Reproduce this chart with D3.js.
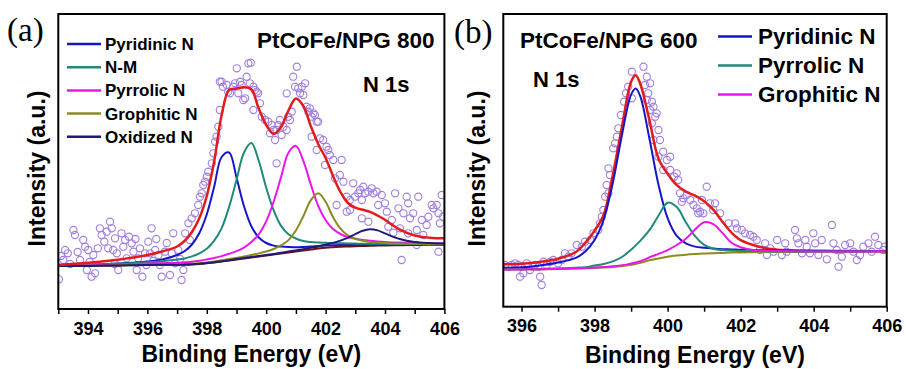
<!DOCTYPE html>
<html>
<head>
<meta charset="utf-8">
<script src="https://cdnjs.cloudflare.com/ajax/libs/d3/7.8.5/d3.min.js"></script>
<style>
	body { margin: 0; background: #fff; }
	svg text { font-family: "Liberation Sans", Arial, sans-serif; font-weight: bold; fill: #000; }
</style>
</head>
<body>
<div id="chartDiv"></div>
<script>
//x axis ticks and labels
var ticksA = [393, 394, 395, 396, 397, 398, 399, 400, 401, 402, 403, 404, 405, 406];
var labelsA = [394, 396, 398, 400, 402, 404, 406];
var ticksB = [396, 397, 398, 399, 400, 401, 402, 403, 404, 405, 406];
var labelsB = [396, 398, 400, 402, 404, 406];

var legendA = ["Pyridinic N", "N-M", "Pyrrolic N", "Grophitic N", "Oxidized N"];
var legendB = ["Pyridinic N", "Pyrrolic N", "Grophitic N"];

//fitted curves for PtCoFe/NPG 800 (intensity in a.u.)
var energyA = [393, 394, 395, 396, 396.5, 397, 397.25, 397.5, 397.75, 398, 398.25, 398.5, 398.75, 399, 399.25, 399.5, 399.75, 400, 400.25, 400.5, 400.75, 401, 401.25, 401.5, 401.75, 402, 402.25, 402.5, 402.75, 403, 403.25, 403.5, 403.75, 404, 404.5, 405, 405.5, 406];
var backgroundA = [43, 43, 43.5, 44, 44, 44, 44.2, 44.5, 45, 45.7, 46.5, 47.5, 48.5, 49.5, 50.5, 51.5, 52.5, 53.5, 54.5, 55.5, 56.5, 57.5, 58.5, 59.5, 60.5, 61.3, 61.8, 62.2, 62.5, 62.8, 63, 63.2, 63.4, 63.6, 63.8, 64, 64.2, 64.3];
var pyridinicA = [43.8, 44.2, 45.4, 47.4, 49.5, 54, 57.7, 64.5, 76, 94.7, 122.5, 152, 156.5, 131.5, 103, 82.7, 71.5, 66, 63.4, 62.4, 61.9, 61.8, 62.1, 62.5, 63.1, 63.5, 63.8, 64, 64.1, 64.1, 64.2, 64.3, 64.4, 64.5, 64.6, 64.6, 64.7, 64.7];
var nmA = [43.8, 44.2, 45.2, 46.8, 47.8, 49.4, 50.6, 52.6, 55.7, 60.2, 68.3, 80.9, 102, 128.9, 156.3, 165.9, 148, 121.3, 98.8, 83.1, 74.8, 70.5, 68, 67, 66.5, 66.2, 65.9, 65.7, 65.5, 65.4, 65.3, 65.3, 65.3, 65.2, 65.1, 65.1, 65.1, 65.1];
var pyrrolicA = [43.6, 43.7, 44.5, 45.4, 45.8, 46.2, 46.7, 47.3, 48.3, 49.6, 51, 52.9, 55.2, 57.8, 61.4, 67, 74.7, 87.6, 107.3, 131.9, 156.3, 163.1, 148.1, 124.6, 103.2, 89, 79.9, 75, 71.9, 70.2, 69, 68.2, 67.6, 67.1, 66.4, 66, 65.9, 65.7];
var grophiticA = [43.2, 43.2, 43.8, 44.4, 44.5, 44.6, 44.9, 45.2, 45.8, 46.6, 47.6, 48.7, 49.9, 51.2, 52.5, 54, 55.6, 57.5, 60, 63.6, 68.9, 78.5, 92.8, 108.7, 115.7, 107.2, 91.7, 80.4, 73.6, 70.2, 68.2, 67, 66.3, 66, 65.4, 65.2, 65.1, 65];
var oxidizedA = [43.1, 43.1, 43.6, 44.1, 44.2, 44.2, 44.4, 44.7, 45.2, 45.9, 46.8, 47.8, 48.8, 49.9, 50.9, 52, 53, 54.1, 55.1, 56.3, 57.4, 58.6, 59.8, 61.2, 62.6, 64.3, 66.1, 68.4, 71.1, 74.8, 78.2, 79.7, 78.6, 75.6, 70, 67, 65.9, 65.4];
var envelopeA = [44, 46.3, 49.3, 54, 57.5, 62.5, 68, 77, 91, 113, 148, 194, 219, 220.5, 221.7, 219.5, 200.4, 184, 175, 182, 198.5, 210.5, 203, 183, 165, 151, 133, 117, 106, 101.3, 99.2, 97.2, 93.5, 89.2, 79.4, 73.5, 71.3, 70.7];

//measured points for PtCoFe/NPG 800 [eV, intensity]
var pointsA = [[393.02,29.7],[393.09,53],[393.17,49],[393.23,59],[393.32,55.7],[393.4,45],[393.51,79],[393.56,74],[393.65,57],[393.73,49],[393.84,69],[393.9,62.3],[393.96,39],[394.01,59],[394.05,47],[394.12,32.3],[394.18,54],[394.24,35.7],[394.33,60.7],[394.4,80.7],[394.46,74],[394.55,67.3],[394.63,77.3],[394.68,60.7],[394.74,87.3],[394.8,80.7],[394.85,59],[394.9,45],[394.91,70.7],[394.97,55.7],[395.02,39],[395.13,75.7],[395.19,62.3],[395.25,69],[395.3,50.7],[395.38,72.3],[395.47,65.7],[395.53,57.3],[395.6,70],[395.64,39],[395.69,50.7],[395.75,60.7],[395.83,32.3],[395.92,55.7],[395.97,44],[396.03,67.3],[396.09,55.7],[396.14,80.7],[396.2,48],[396.26,59],[396.3,70],[396.37,54],[396.42,44],[396.48,32.3],[396.59,57.3],[396.65,66],[396.76,34],[396.82,55.7],[396.87,75.7],[396.93,45.7],[397.04,59],[397.1,50],[397.15,29],[397.21,39],[397.27,75.7],[397.38,85.7],[397.43,69],[397.49,90.7],[397.6,95.7],[397.71,104],[397.77,112.3],[397.83,115.7],[397.88,124],[397.94,127.3],[398,132.3],[398.05,137.3],[398.17,145.7],[398.22,155.7],[398.28,167.3],[398.33,172.3],[398.39,182.3],[398.44,199],[398.44,227.3],
	[398.5,227.3],[398.54,222.3],[398.67,224],[398.72,217.3],[398.78,215.7],[398.89,222.3],[398.95,225.7],[399.01,240.7],[399.06,215.7],[399.12,227.3],[399.17,224],[399.23,209],[399.29,210.7],[399.34,232.3],[399.4,245.7],[399.48,246.3],[399.45,225.7],[399.57,222.3],[399.62,219],[399.68,217.3],[399.73,215.7],[399.57,199],[399.79,205.7],[399.85,192.3],[399.96,189],[400.07,187.3],[400.13,175.7],[400.19,184],[400.24,179],[400.3,169],[400.35,179],[400.35,145.7],[400.41,184],[400.46,189],[400.52,174],[400.58,182.3],[400.69,179],[400.69,215.7],[400.74,192.3],[400.8,189],[400.86,197.3],[400.91,232.3],[400.97,222.3],[401.03,242.3],[401.08,220.7],[401.14,215.7],[401.2,222.3],[401.25,214],[401.31,225.7],[401.36,202.3],[401.42,197.3],[401.47,200.7],[401.53,192.3],[401.53,172.3],[401.59,195.7],[401.64,194],[401.7,187.3],[401.7,159],[401.75,187.3],[401.81,170.7],[401.92,169],[401.98,144],[402.03,162.3],[402.09,159],
	[402.14,154],[402.26,149],[402.54,149],[402.32,130.7],[402.48,134],[402.6,127.3],[402.37,104],[402.71,112.3],[402.82,109],[402.93,125.7],[402.99,112.3],[403.1,115.7],[403.16,119],[403.22,109],[403.27,122.3],[403.33,115.7],[402.71,97.3],[402.82,99],[403.22,90.7],[403.44,87.3],[403.44,117.3],[403.55,120.7],[403.61,115.7],[403.72,117.3],[403.77,104],[403.89,114],[404,105.7],[404.06,97.3],[404.11,82.3],[404.23,89],[404.34,115.7],[404.45,100.7],[404.5,80.7],[404.62,95.7],[404.73,112.3],[404.78,105.7],[404.84,90.7],[404.95,95.7],[405.07,79],[405.12,112.3],[405.24,89],[405.29,74],[405.4,84],[405.46,92.3],[405.57,104],[405.63,100.7],[405.74,104],[405.8,95.7],[405.85,85.7],[405.91,114],[405.96,92.3],[404.56,49],[405.8,57.3],[405.07,64],[404.28,76.3],[404.78,75.7]];

//fitted curves for PtCoFe/NPG 600
var energyB = [395.5, 396, 396.5, 397, 397.5, 397.75, 398, 398.25, 398.5, 398.75, 399, 399.125, 399.25, 399.5, 399.75, 400, 400.25, 400.5, 400.75, 401, 401.25, 401.5, 401.75, 402, 402.5, 403, 403.5, 404, 404.5, 405, 405.5, 406];
var backgroundB = [37.2, 37.2, 37.3, 37.7, 38.1, 38.4, 38.7, 39.2, 39.8, 40.7, 42, 42.8, 43.8, 46.5, 48.3, 50, 51.2, 52, 52.6, 53.1, 53.5, 53.8, 54.1, 54.3, 54.6, 54.7, 54.8, 54.9, 55, 55, 55.1, 55.2];
var pyridinicB = [38.9, 39.4, 41.3, 44.2, 49.1, 55.4, 66.7, 87.2, 123.8, 171.7, 212.1, 218.2, 210.6, 168.4, 122, 88.6, 70.8, 63.4, 60.1, 58.9, 58.1, 57.5, 57.3, 56.9, 56.5, 56.1, 55.9, 55.8, 55.8, 55.6, 55.6, 55.7];
var pyrrolicB = [37.5, 37.6, 37.8, 38.3, 39, 39.5, 41.2, 42.7, 45.3, 49.7, 57, 61.3, 65.8, 76.5, 91, 104, 99.6, 84.5, 70.6, 61.9, 58, 56.6, 56.1, 55.8, 55.6, 55.4, 55.3, 55.3, 55.3, 55.3, 55.3, 55.4];
var grophiticB = [37.3, 37.3, 37.5, 37.9, 38.4, 38.7, 39.1, 39.7, 40.4, 41.4, 43.2, 44.2, 45.5, 49.3, 52.8, 56.5, 61.7, 68, 77.1, 84.4, 82.6, 73.8, 64, 59.5, 56, 55.6, 55.4, 55.3, 55.3, 55.3, 55.3, 55.4];
var envelopeB = [42.5, 43, 44.8, 48, 55, 64, 76, 92, 132, 180, 225, 231.5, 223, 187, 148, 133, 121.5, 115, 111, 105.5, 97, 85, 74, 66.5, 60, 57, 56.3, 56, 55.8, 55.6, 55.5, 55.4];

//measured points for PtCoFe/NPG 600 [eV, intensity]
var pointsB = [[395.55,41.7],[395.64,40],[395.73,41.7],[395.82,43.4],[395.91,41.7],[395.96,30],[396,40],[396.05,33.4],[396.14,43.4],[396.23,36.7],[396.32,40],[396.37,41.7],[396.46,40],[396.51,30],[396.55,21.7],[396.6,45],[396.69,41.7],[396.78,45],[396.87,46.7],[397,43.4],[397.1,46.7],[397.19,53.4],[397.28,50],[397.37,53.4],[397.51,61.7],[397.65,60],[397.74,65],[397.88,66.7],[397.97,73.4],[398.1,76.7],[398.15,83.4],[398.2,90],[398.24,96.7],[398.29,110],[398.33,121.7],[398.38,113.4],[398.38,138.4],[398.42,131.7],[398.51,158.4],[398.56,163.4],[398.61,170],[398.65,178.4],[398.72,191.7],[398.81,205],[398.86,213.4],[398.92,220],[399.02,208.4],[399.02,235],[399.34,240],[399.38,221.7],[399.43,230],[399.43,206.7],[399.47,213.4],[399.52,196.7],[399.52,223.4],[399.57,205],[399.57,183.4],[399.61,200],[399.61,166.7],[399.66,190],[399.7,193.4],[399.75,176.7],[399.75,150],[399.79,166.7],[399.88,155],[399.88,136.7],[399.98,146.7],[400.07,136.7],[400.07,150],[400.18,130],[400.25,133.4],
	[400.29,126.7],[400.34,113.4],[400.39,105],[400.43,108.4],[400.52,111.7],[400.62,106.7],[400.71,101.7],[400.8,98.4],[400.84,93.4],[400.89,95],[400.94,106.7],[400.98,93.4],[401.07,120],[401.16,103.4],[401.25,96.7],[401.3,103.4],[401.44,93.4],[401.67,83.4],[401.85,83.4],[401.9,78.4],[402.03,76.7],[402.12,73.4],[402.26,71.7],[402.35,70],[402.44,66.7],[402.53,56.7],[402.67,63.4],[402.72,51.7],[402.81,58.4],[402.9,55],[403,66.7],[403.13,51.7],[403.22,63.4],[403.26,55],[403.49,76.7],[403.54,68.4],[403.58,63.4],[403.68,53.4],[403.77,66.7],[403.81,60],[403.9,53.4],[403.99,73.4],[404.04,63.4],[404.13,51.7],[404.22,66.7],[404.36,47.4],[404.5,81.7],[404.54,63.4],[404.63,56.7],[404.68,40],[404.77,50],[404.86,61.7],[405,63.4],[405.09,55],[405.18,46.7],[405.27,51.7],[405.36,60],[405.5,63.4],[405.59,55],[405.68,70],[405.77,61.7],[405.91,56.7],[405.95,60]];

var blue = "#1616c8", teal = "#1e8a78", magenta = "#ec14ec", olive = "#8c8c1e", navy = "#1c1c78", red = "#e01c1c";

var svg = d3.select("#chartDiv").append("svg")
	.attr("width", 906)
	.attr("height", 369);

svg.append("rect").attr("width", 906).attr("height", 369).attr("fill", "#fff");

drawPanel({
	name: "a", left: 58.3, right: 444.4, top: 14, bottom: 309,
	xDomain: [393, 406], yDomain: [0, 295],
	ticks: ticksA, labels: labelsA, energy: energyA, points: pointsA,
	curves: [
		{values: backgroundA, color: "#6e1414", width: 2},
		{values: pyridinicA, color: blue, width: 2},
		{values: nmA, color: teal, width: 2},
		{values: pyrrolicA, color: magenta, width: 2},
		{values: grophiticA, color: olive, width: 2},
		{values: oxidizedA, color: navy, width: 2},
		{values: envelopeA, color: red, width: 2.5}
	],
	legend: legendA, legendColors: [blue, teal, magenta, olive, navy],
	legendLine: [67, 101], legendText: 105, legendTop: 50, legendStep: 23.2, legendFont: 17, legendOffset: 6,
	panelLabel: "(a)", panelLabelX: 7, panelLabelY: 41,
	sample: "PtCoFe/NPG 800", sampleX: 257, sampleY: 48,
	core: "N 1s", coreX: 363, coreY: 91.5,
	yTitleX: 44.5, xTitleY: 361.5
});

drawPanel({
	name: "b", left: 503.3, right: 886.7, top: 14, bottom: 306.7,
	xDomain: [395.5, 406], yDomain: [0, 292.7],
	ticks: ticksB, labels: labelsB, energy: energyB, points: pointsB,
	curves: [
		{values: backgroundB, color: olive, width: 2},
		{values: envelopeB, color: red, width: 2.5},
		{values: pyridinicB, color: blue, width: 2},
		{values: pyrrolicB, color: teal, width: 2},
		{values: grophiticB, color: magenta, width: 2}
	],
	legend: legendB, legendColors: [blue, teal, magenta],
	legendLine: [718, 752], legendText: 758, legendTop: 43.5, legendStep: 29, legendFont: 22.5, legendOffset: 7,
	panelLabel: "(b)", panelLabelX: 454, panelLabelY: 43,
	sample: "PtCoFe/NPG 600", sampleX: 520, sampleY: 48,
	core: "N 1s", coreX: 533, coreY: 87,
	yTitleX: 484.5, xTitleY: 362.5
});

//draws one XPS panel: points, fitted curves, axis, frame and labels
function drawPanel(p) {
	var x = d3.scaleLinear().domain(p.xDomain).range([p.left, p.right]);
	var y = d3.scaleLinear().domain(p.yDomain).range([p.bottom, p.top]);

	svg.append("clipPath")
		.attr("id", "clip" + p.name)
		.append("rect")
		.attr("x", p.left)
		.attr("y", p.top)
		.attr("width", p.right - p.left)
		.attr("height", p.bottom - p.top);

	var plot = svg.append("g").attr("clip-path", "url(#clip" + p.name + ")");

	plot.selectAll("circle")
		.data(p.points)
		.enter().append("circle")
		.attr("cx", function(d) { return x(d[0]); })
		.attr("cy", function(d) { return y(d[1]); })
		.attr("r", 3.6)
		.attr("fill", "none")
		.attr("stroke", "#a17fe0")
		.attr("stroke-width", 1.1);

	var line = d3.line()
		.x(function(d, i) { return x(p.energy[i]); })
		.y(function(d) { return y(d); })
		.curve(d3.curveCatmullRom.alpha(0.5));

	p.curves.forEach(function(c) {
		plot.append("path")
			.datum(c.values)
			.attr("d", line)
			.attr("fill", "none")
			.attr("stroke", c.color)
			.attr("stroke-width", c.width)
			.attr("stroke-linejoin", "round");
	});

	//bottom axis, a tick every eV and a label every 2 eV
	var gx = svg.append("g")
		.attr("transform", "translate(0," + p.bottom + ")")
		.call(d3.axisBottom(x)
			.tickValues(p.ticks)
			.tickSize(5)
			.tickSizeOuter(0)
			.tickPadding(8)
			.tickFormat(function(d) { return p.labels.indexOf(d) >= 0 ? d : ""; }));
	gx.select(".domain").remove();
	gx.selectAll(".tick line").attr("stroke", "#000").attr("stroke-width", 1.5);
	gx.selectAll(".tick text").style("font-size", "18px").attr("fill", "#000");

	svg.append("rect")
		.attr("x", p.left)
		.attr("y", p.top)
		.attr("width", p.right - p.left)
		.attr("height", p.bottom - p.top)
		.attr("fill", "none")
		.attr("stroke", "#000")
		.attr("stroke-width", 2);

	svg.append("text")
		.attr("x", (p.left + p.right) / 2)
		.attr("y", p.xTitleY)
		.attr("text-anchor", "middle")
		.style("font-size", "23px")
		.text("Binding Energy (eV)");

	svg.append("text")
		.attr("transform", "translate(" + p.yTitleX + ",168.5) rotate(-90)")
		.attr("text-anchor", "middle")
		.style("font-size", "23px")
		.text("Intensity (a.u.)");

	svg.append("text")
		.attr("x", p.panelLabelX)
		.attr("y", p.panelLabelY)
		.style("font-family", "'Liberation Serif', 'Times New Roman', serif")
		.style("font-weight", "normal")
		.style("font-size", "33px")
		.text(p.panelLabel);

	svg.append("text")
		.attr("x", p.sampleX)
		.attr("y", p.sampleY)
		.style("font-size", "22.5px")
		.text(p.sample);

	svg.append("text")
		.attr("x", p.coreX)
		.attr("y", p.coreY)
		.style("font-size", "22px")
		.text(p.core);

	//legend
	var item = svg.selectAll(".legend" + p.name)
		.data(p.legend)
		.enter().append("g")
		.attr("class", "legend" + p.name)
		.attr("transform", function(d, i) {
			return "translate(0," + (p.legendTop + i * p.legendStep) + ")";
		});

	item.append("line")
		.attr("x1", p.legendLine[0])
		.attr("x2", p.legendLine[1])
		.attr("y1", -p.legendOffset)
		.attr("y2", -p.legendOffset)
		.attr("stroke", function(d, i) { return p.legendColors[i]; })
		.attr("stroke-width", 2.5);

	item.append("text")
		.attr("x", p.legendText)
		.style("font-size", p.legendFont + "px")
		.text(function(d) { return d; });
}
</script>
</body>
</html>
